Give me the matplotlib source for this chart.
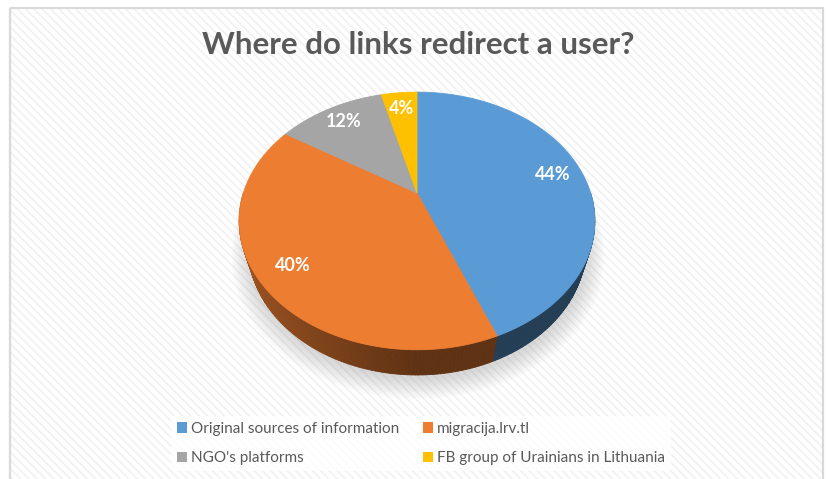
import numpy as np
import matplotlib
matplotlib.use("Agg")
import matplotlib.pyplot as plt
from matplotlib.patches import Polygon, Rectangle, Patch
from matplotlib.collections import PolyCollection
from matplotlib.colors import to_rgb

title = "Where do links redirect a user?"
categories = ["Original sources of information", "migracija.lrv.tl",
              "NGO's platforms", "FB group of Urainians in Lithuania"]
shares = [44, 40, 12, 4]
colors = ["#5b9bd5", "#ed7d31", "#a5a5a5", "#ffc000"]

plt.rcParams["font.family"] = ["Lato", "DejaVu Sans"]
plt.rcParams["hatch.linewidth"] = 1.3

W, H = 828, 479
fig = plt.figure(figsize=(W / 100, H / 100), dpi=100)
ax = fig.add_axes([0, 0, 1, 1])
ax.set_xlim(0, W)
ax.set_ylim(H, 0)
ax.axis("off")

# chart area: light diagonal pattern with a grey border
ax.add_patch(Rectangle((10, 8), 813, 480, facecolor="white", edgecolor="#f2f2f2",
                       hatch="\\\\\\\\", linewidth=0, zorder=0))
ax.add_patch(Rectangle((10, 8), 813, 480, fill=False, edgecolor="#d9d9d9",
                       linewidth=1.6, zorder=1))

# perspective camera looking down on the pie
CX, CY = 417, 193
FOCAL, DIST = 566.0, 3.26
ELEV = np.radians(45)
DEPTH = 0.237


def project(x, z, y=0.0):
    s, c = np.sin(ELEV), np.cos(ELEV)
    den = DIST + z * c - y * s
    return CX + FOCAL * x / den, CY - FOCAL * (z * s + y * c) / den


def rim(phi, r=1.0, y=0.0):
    px, py = project(r * np.sin(phi), r * np.cos(phi), y)
    return np.column_stack([px, py])


frac = np.array(shares, dtype=float) / sum(shares)
edges = np.concatenate([[0], np.cumsum(frac)]) * 2 * np.pi

# soft shadow under the pie
full = np.linspace(0, 2 * np.pi, 240)
for k in range(10):
    pts = rim(full, 1.0 + 0.011 * k, -DEPTH) + [1, 4]
    ax.add_patch(Polygon(pts, closed=True, facecolor="#7f7f7f", alpha=0.03,
                         edgecolor="none", zorder=2))

# side wall, only the front half shows
strips, strip_cols, strip_z = [], [], []
for i in range(len(shares)):
    a0, a1 = max(edges[i], np.pi / 2), min(edges[i + 1], 3 * np.pi / 2)
    if a1 <= a0:
        continue
    n = max(2, int(np.degrees(a1 - a0)))
    ph = np.linspace(a0, a1, n + 1)
    top = rim(ph)
    bot = rim(ph, 1.0, -DEPTH)
    base = np.array(to_rgb(colors[i]))
    for j in range(n):
        mid = 0.5 * (ph[j] + ph[j + 1])
        shade = 0.40 + 0.29 * max(0.0, -np.sin(mid))
        strips.append([top[j], top[j + 1], bot[j + 1], bot[j]])
        strip_cols.append(base * shade)
        strip_z.append(np.cos(mid))
order = np.argsort(strip_z)[::-1]
ax.add_collection(PolyCollection([strips[k] for k in order],
                                 facecolors=[strip_cols[k] for k in order],
                                 edgecolors=[strip_cols[k] for k in order],
                                 linewidths=0.6, zorder=3))

# top face
for i in range(len(shares)):
    ph = np.linspace(edges[i], edges[i + 1], 120)
    pts = np.vstack([[CX, CY], rim(ph)])
    ax.add_patch(Polygon(pts, closed=True, facecolor=colors[i], edgecolor=colors[i],
                         linewidth=0.6, zorder=4))

# value labels at the middle of each slice
for i, v in enumerate(shares):
    mid = 0.5 * (edges[i] + edges[i + 1])
    lx, ly = project(0.82 * np.sin(mid), 0.82 * np.cos(mid))
    ax.text(lx, ly, f"{v}%", color="white", fontsize=13, fontweight="bold",
            ha="center", va="center", zorder=5)

ax.text(418, 45, title, color="#595959", fontsize=22.5, fontweight="bold",
        ha="center", va="center", zorder=5)

handles = [Patch(facecolor=colors[i], edgecolor="none", label=categories[i])
           for i in (0, 2, 1, 3)]
leg = ax.legend(handles=handles, ncol=2, loc="center", bbox_to_anchor=(421, 443.5),
                bbox_transform=ax.transData, fontsize=11, frameon=True,
                handlelength=0.65, handleheight=0.65, handletextpad=0.3,
                columnspacing=1.5, labelspacing=1.0, borderpad=0.4,
                labelcolor="#595959")
leg.get_frame().set_facecolor("white")
leg.get_frame().set_alpha(0.8)
leg.get_frame().set_edgecolor("none")
leg.get_frame().set_boxstyle("square", pad=0)
leg.set_zorder(6)

fig.savefig("out.png", dpi=100)
